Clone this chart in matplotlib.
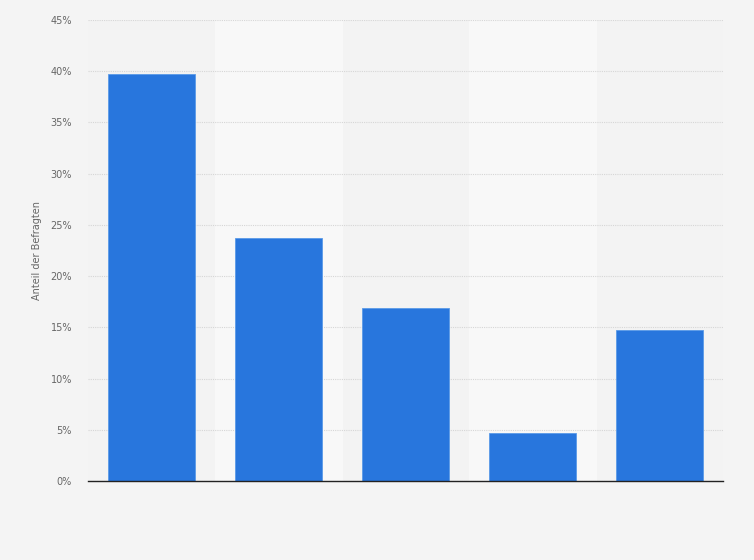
import numpy as np
import matplotlib.pyplot as plt

# survey shares in percent (category labels not shown in the chart)
categories = ['A', 'B', 'C', 'D', 'E']
values = [39.7, 23.7, 16.9, 4.7, 14.7]
yticks = [0, 5, 10, 15, 20, 25, 30, 35, 40, 45]

fig = plt.figure(figsize=(7.54, 5.6), dpi=100)
fig.patch.set_facecolor('#f4f4f4')
ax = fig.add_axes([88/754, 1 - 481/560, 635/754, 461/560])
ax.set_facecolor('#f3f3f3')

x = np.arange(len(categories))
# alternating light column bands
for i in x:
    if i % 2 == 1:
        ax.axvspan(i - 0.5, i + 0.5, color='#f8f8f8', zorder=0)

ax.bar(x, values, width=0.69, color='#2876dd', edgecolor='#5a9ae8', linewidth=0.6, zorder=3)

ax.set_xlim(-0.5, len(categories) - 0.5)
ax.set_ylim(0, 45)
ax.set_yticks(yticks)
ax.set_yticklabels([f'{t}%' for t in yticks])
ax.set_xticks([])
ax.grid(axis='y', color='#d6d6d6', linestyle=(0, (1, 1)), linewidth=0.8, zorder=1)
ax.tick_params(axis='y', length=0, pad=11.5, labelsize=7, labelcolor='#666666')

for s in ['top', 'right', 'left']:
    ax.spines[s].set_visible(False)
ax.spines['bottom'].set_color('#222222')
ax.spines['bottom'].set_linewidth(1.0)
ax.spines['bottom'].set_zorder(4)

ax.set_ylabel('Anteil der Befragten', fontsize=7, color='#666666', labelpad=6)

fig.savefig('out.png', dpi=100, facecolor=fig.get_facecolor())
